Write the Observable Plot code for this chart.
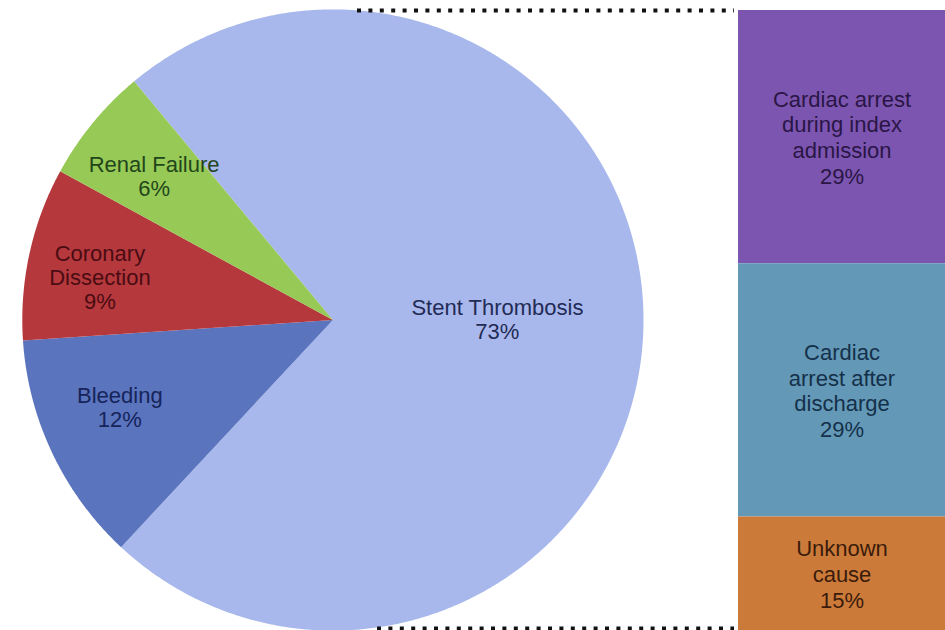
<!DOCTYPE html>
<html>
<head>
<meta charset="utf-8">
<script src="https://cdn.jsdelivr.net/npm/d3@7"></script>
<script src="https://cdn.jsdelivr.net/npm/@observablehq/plot@0.6"></script>
<style>
  html, body { margin: 0; padding: 0; background: #ffffff; overflow: hidden; }
  #chart svg { display: block; }
</style>
</head>
<body>
<div id="chart"></div>
<script>
// Causes of death (share of all deaths, %)
const causes = ["Stent Thrombosis", "Bleeding", "Coronary Dissection", "Renal Failure"];
const causeLabels = ["Stent Thrombosis", "Bleeding", "Coronary\nDissection", "Renal Failure"];
const causeShares = [73, 12, 9, 6];
const causeColors = ["#a9b8ec", "#5a74be", "#b5383d", "#97c957"];
const causeTextColors = ["#222b55", "#16245a", "#4a0c12", "#22461a"];

// Breakdown of the stent thrombosis deaths (share of all deaths, %)
const stentSubtypes = ["Cardiac arrest during index admission", "Cardiac arrest after discharge", "Unknown cause"];
const stentSubtypeLabels = ["Cardiac arrest\nduring index\nadmission", "Cardiac\narrest after\ndischarge", "Unknown\ncause"];
const stentSubtypeShares = [29, 29, 15];
const stentSubtypeColors = ["#7c55b0", "#6399b6", "#cc7a3a"];
const stentSubtypeTextColors = ["#2a1546", "#15304a", "#3a1c0a"];

// Layout: one shared unit (percentage points) on both axes
const W = 945, H = 630, TOP = 10;
const total = d3.sum(stentSubtypeShares);           // the bar spans the stent thrombosis share
const axisMin = 2;                                   // bar axis starts slightly above zero
const unit = (H - TOP) / (total - axisMin);          // pixels per percentage point
const pie = {cx: 332.4 / unit, cy: total - (319.5 - TOP) / unit, r: 310.6 / unit, startDeg: -39.8};
const bar = {x1: 738 / unit, x2: W / unit};
const font = "'Liberation Sans', Arial, Helvetica, sans-serif";
// small hand placement of slice labels, in pixels (right, down)
const pieLabelNudge = [[-1, -5], [-4, -12], [-7, 7], [0, 3]];

// Pie slices as closed polygons (centre + sampled arc)
const arcs = d3.pie().sort(null).value(d => d.share)
  .startAngle(pie.startDeg * Math.PI / 180)
  .endAngle(pie.startDeg * Math.PI / 180 + 2 * Math.PI)(
    causes.map((name, i) => ({name, label: causeLabels[i], share: causeShares[i], text: causeTextColors[i], nudge: pieLabelNudge[i]}))
  );

const slicePoints = arcs.flatMap(a => {
  const n = Math.max(2, Math.ceil((a.endAngle - a.startAngle) / (0.4 * Math.PI / 180)));
  const pts = [{name: a.data.name, x: pie.cx, y: pie.cy}];
  for (let k = 0; k <= n; ++k) {
    const t = a.startAngle + (a.endAngle - a.startAngle) * k / n;
    pts.push({name: a.data.name, x: pie.cx + pie.r * Math.sin(t), y: pie.cy + pie.r * Math.cos(t)});
  }
  return pts;
});

const pieLabelMarks = arcs.map(a => {
  const mid = (a.startAngle + a.endAngle) / 2;
  const k = (a.endAngle - a.startAngle) > Math.PI ? 0.533 : 0.745;
  const [nx, ny] = a.data.nudge;
  return Plot.text([a], {
    x: () => pie.cx + k * pie.r * Math.sin(mid) + nx / unit,
    y: () => pie.cy + k * pie.r * Math.cos(mid) - ny / unit,
    text: d => `${d.data.label}\n${d.data.share}%`,
    fill: a.data.text,
    fontSize: 22,
    lineHeight: 1.1,
    fontFamily: font
  });
});

// Stacked bar: first subtype on top
const barData = stentSubtypes.map((name, i) => ({name, label: stentSubtypeLabels[i], share: stentSubtypeShares[i]}));
const ends = d3.cumsum([...stentSubtypeShares].reverse()).reverse(); // top of each segment
const barLabelMarks = barData.map((d, i) => {
  const hi = ends[i], lo = Math.max(hi - d.share, axisMin);
  return Plot.text([d], {
    x: () => (bar.x1 + bar.x2) / 2,
    y: () => (hi + lo) / 2,
    text: d => `${d.label}\n${d.share}%`,
    fill: stentSubtypeTextColors[i],
    fontSize: 22,
    lineHeight: 1.17,
    fontFamily: font
  });
});

const chart = Plot.plot({
  width: W,
  height: H,
  marginTop: TOP,
  marginBottom: 0,
  marginLeft: 0,
  marginRight: 0,
  style: {background: "#ffffff", fontFamily: font},
  x: {domain: [0, W / unit], axis: null},
  y: {domain: [axisMin, total], axis: null},
  color: {type: "ordinal", domain: [...causes, ...stentSubtypes], range: [...causeColors, ...stentSubtypeColors]},
  marks: [
    Plot.line(slicePoints, {x: "x", y: "y", z: "name", fill: "name", stroke: "none", curve: "linear-closed"}),
    Plot.rectY(barData, Plot.stackY({x1: bar.x1, x2: bar.x2, y: "share", fill: "name", reverse: true, clip: true})),
    Plot.ruleY([total], {x1: 357 / unit, x2: 734 / unit, stroke: "#111", strokeWidth: 4, strokeDasharray: "4,7.4"}),
    Plot.ruleY([pie.cy - pie.r + 0.25], {x1: 377 / unit, x2: 734 / unit, stroke: "#111", strokeWidth: 4, strokeDasharray: "4,7.4"}),
    ...pieLabelMarks,
    ...barLabelMarks
  ]
});

document.getElementById("chart").appendChild(chart);
</script>
</body>
</html>
